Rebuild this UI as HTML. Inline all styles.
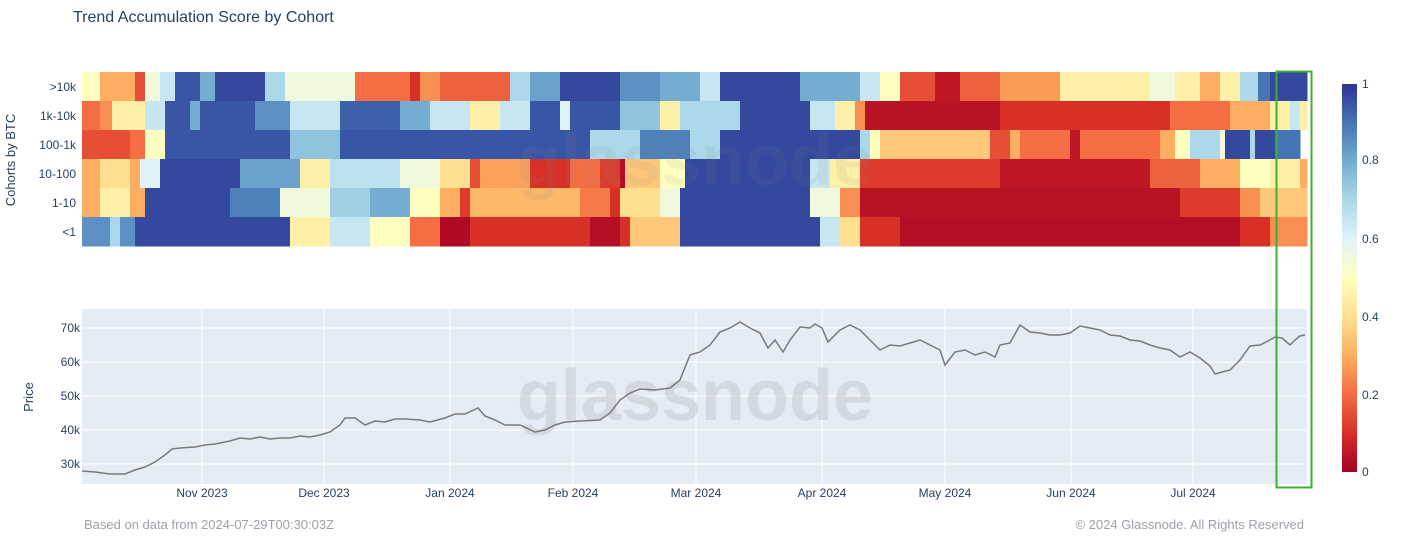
<!DOCTYPE html>
<html><head><meta charset="utf-8"><style>
html,body{margin:0;padding:0;background:#fff;width:1402px;height:553px;overflow:hidden}
svg{display:block;font-family:"Liberation Sans","DejaVu Sans",sans-serif}
</style></head><body>
<svg id="s" width="1402" height="553" xmlns="http://www.w3.org/2000/svg">
<defs>
<linearGradient id="cb" x1="0" y1="1" x2="0" y2="0">
<stop offset="0" stop-color="#a50026"/><stop offset="0.1" stop-color="#d73027"/><stop offset="0.2" stop-color="#f46d43"/><stop offset="0.3" stop-color="#fdae61"/><stop offset="0.4" stop-color="#fee090"/><stop offset="0.5" stop-color="#ffffbf"/><stop offset="0.6" stop-color="#e0f3f8"/><stop offset="0.7" stop-color="#abd9e9"/><stop offset="0.8" stop-color="#74add1"/><stop offset="0.9" stop-color="#4575b4"/><stop offset="1" stop-color="#2c3495"/>
</linearGradient>
</defs>
<text x="73" y="22" font-size="16" fill="#2a3f5f">Trend Accumulation Score by Cohort</text>
<g id="hm"></g>
<g font-size="12" fill="#2a3f5f" text-anchor="end">
<text x="76" y="91">&gt;10k</text><text x="76" y="120">1k-10k</text><text x="76" y="149">100-1k</text><text x="76" y="178">10-100</text><text x="76" y="207">1-10</text><text x="76" y="236">&lt;1</text>
</g>
<text transform="translate(15,160) rotate(-90)" font-size="13" fill="#2a3f5f" text-anchor="middle">Cohorts by BTC</text>
<rect x="1342" y="84" width="15" height="388" fill="url(#cb)"/>
<g font-size="12" fill="#2a3f5f">
<text x="1362" y="88">1</text><text x="1362" y="164">0.8</text><text x="1362" y="243">0.6</text><text x="1362" y="321">0.4</text><text x="1362" y="399">0.2</text><text x="1362" y="476">0</text>
</g>
<rect x="82" y="309" width="1225" height="175" fill="#e5ecf6"/>
<g id="grid" stroke="#fff" stroke-width="1"></g>
<text x="695" y="420" font-size="72" fill="#c8ccd4" opacity="0.6" text-anchor="middle" font-weight="bold">glassnode</text>
<text x="695" y="185" font-size="72" fill="#888" opacity="0.1" text-anchor="middle" font-weight="bold">glassnode</text>
<polyline id="pl" fill="none" stroke="#7a7a7a" stroke-width="1.5"/>
<g font-size="12" fill="#2a3f5f" text-anchor="end">
<text x="80" y="332">70k</text><text x="80" y="366">60k</text><text x="80" y="400">50k</text><text x="80" y="434">40k</text><text x="80" y="468">30k</text>
</g>
<text transform="translate(33,397) rotate(-90)" font-size="13" fill="#2a3f5f" text-anchor="middle">Price</text>
<g font-size="12" fill="#2a3f5f" text-anchor="middle">
<text x="202" y="497">Nov 2023</text><text x="324" y="497">Dec 2023</text><text x="450" y="497">Jan 2024</text><text x="573" y="497">Feb 2024</text><text x="696" y="497">Mar 2024</text><text x="822" y="497">Apr 2024</text><text x="945" y="497">May 2024</text><text x="1071" y="497">Jun 2024</text><text x="1193" y="497">Jul 2024</text>
</g>
<text x="84" y="529" font-size="13" fill="#a0a0a8">Based on data from 2024-07-29T00:30:03Z</text>
<text x="1304" y="529" font-size="13" fill="#a0a0a8" text-anchor="end">© 2024 Glassnode. All Rights Reserved</text>
<rect x="1276.5" y="71.5" width="35" height="416" fill="none" stroke="#3cb034" stroke-width="2"/>
</svg>
<script>
var NS="http://www.w3.org/2000/svg";
var stops=[[165,0,38],[215,48,39],[244,109,67],[253,174,97],[254,224,144],[255,255,191],[224,243,248],[171,217,233],[116,173,209],[69,117,180],[44,52,149]];
function col(v){v=Math.max(0,Math.min(1,v))*10;var i=Math.min(9,Math.floor(v)),f=v-i,a=stops[i],b=stops[i+1];
return "rgb("+[0,1,2].map(function(k){return Math.round(a[k]+(b[k]-a[k])*f)}).join(",")+")";}
var rows=[
[[100,.5],[135,.3],[145,.15],[160,.55],[175,.65],[200,.95],[215,.8],[265,.97],[285,.7],[355,.55],[410,.2],[420,.1],[440,.25],[510,.18],[530,.7],[560,.82],[620,.97],[660,.85],[700,.8],[720,.65],[800,.97],[860,.8],[880,.65],[900,.5],[935,.15],[960,.05],[1000,.18],[1060,.27],[1150,.45],[1175,.55],[1200,.45],[1220,.3],[1240,.45],[1258,.7],[1270,.9],[1307,.97]],
[[100,.2],[112,.25],[145,.45],[165,.65],[190,.95],[200,.8],[255,.95],[290,.85],[340,.65],[400,.93],[430,.8],[470,.65],[500,.45],[530,.65],[560,.95],[570,.6],[620,.95],[660,.75],[680,.45],[740,.7],[810,.97],[835,.65],[855,.45],[865,.25],[1000,.04],[1170,.1],[1230,.2],[1270,.3],[1290,.45],[1300,.65],[1307,.45]],
[[130,.15],[145,.2],[165,.5],[290,.95],[340,.75],[590,.95],[640,.7],[690,.88],[720,.7],[860,.97],[870,.7],[880,.5],[990,.35],[1010,.15],[1020,.3],[1070,.2],[1080,.05],[1160,.2],[1175,.3],[1190,.5],[1220,.7],[1225,.55],[1250,.97],[1255,.7],[1275,.97],[1300,.9]],
[[100,.3],[130,.4],[140,.3],[160,.6],[240,.97],[300,.82],[330,.45],[400,.67],[440,.55],[470,.4],[480,.15],[530,.28],[570,.1],[600,.2],[620,.12],[625,.03],[660,.35],[685,.5],[810,.97],[830,.65],[860,.45],[1000,.12],[1150,.05],[1200,.18],[1240,.3],[1270,.5],[1300,.45],[1307,.3]],
[[100,.3],[130,.45],[145,.3],[230,.97],[280,.88],[330,.55],[370,.72],[410,.8],[440,.5],[460,.3],[470,.12],[580,.32],[610,.22],[620,.1],[660,.4],[680,.55],[810,.97],[840,.55],[860,.25],[1180,.04],[1240,.12],[1260,.25],[1307,.35]],
[[110,.85],[120,.7],[135,.85],[290,.97],[330,.45],[370,.65],[410,.5],[440,.2],[470,.02],[590,.1],[620,.03],[630,.1],[680,.35],[820,.97],[840,.65],[860,.4],[900,.1],[1240,.03],[1270,.1],[1307,.25]]];
var hm=document.getElementById("hm");
rows.forEach(function(r,ri){var x0=82;r.forEach(function(s){var e=document.createElementNS(NS,"rect");
e.setAttribute("x",x0);e.setAttribute("y",72+ri*29);e.setAttribute("width",s[0]-x0+0.5);e.setAttribute("height",29.5);e.setAttribute("fill",col(s[1]));hm.appendChild(e);x0=s[0];});});
var g=document.getElementById("grid");
[202,324,450,573,696,822,945,1071,1193].forEach(function(x){var l=document.createElementNS(NS,"line");l.setAttribute("x1",x);l.setAttribute("x2",x);l.setAttribute("y1",309);l.setAttribute("y2",484);g.appendChild(l);});
[328,362,396,430,464].forEach(function(y){var l=document.createElementNS(NS,"line");l.setAttribute("x1",82);l.setAttribute("x2",1307);l.setAttribute("y1",y);l.setAttribute("y2",y);g.appendChild(l);});
var pts="82,471 95,472 110,474 125,474 135,470 145,467 155,462 165,455 172,449 180,448 195,447 205,445 215,444 230,441 240,438 250,439 260,437 270,439 280,438 290,438 300,436 310,437 320,435 330,432 340,425 345,418 355,418 365,425 375,421 385,422 395,419 405,419 420,420 430,422 445,418 455,414 465,414 478,408 485,416 495,420 505,425 520,425 535,432 545,430 555,425 565,422 580,421 600,420 610,413 620,400 630,393 640,389 655,390 670,388 680,380 690,355 700,352 710,345 720,332 730,328 740,322 750,328 760,333 768,348 775,340 783,352 790,340 800,327 810,328 815,324 822,328 828,342 840,330 850,325 860,330 870,340 880,350 890,345 900,346 910,343 920,340 930,345 940,350 945,365 955,352 965,350 975,355 985,352 995,357 1000,345 1010,343 1020,325 1030,332 1040,333 1050,335 1060,335 1070,333 1080,326 1090,328 1100,330 1110,335 1120,336 1130,340 1140,341 1150,345 1160,348 1170,350 1180,357 1190,352 1200,358 1210,366 1215,374 1222,372 1230,370 1240,360 1250,346 1260,345 1270,340 1275,337 1282,338 1290,345 1295,340 1300,336 1305,335";
document.getElementById("pl").setAttribute("points",pts);
</script>
</body></html>
